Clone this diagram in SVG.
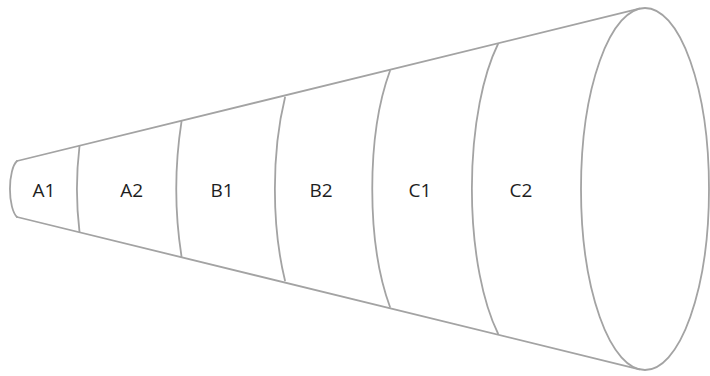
<svg xmlns="http://www.w3.org/2000/svg" width="710" height="376" viewBox="0 0 710 376">
  <style>
    .ln { fill: none; stroke: #a3a3a3; stroke-width: 1.8; stroke-linecap: round; }
    .lbl { font-family: "Open Sans", "Noto Sans", "DejaVu Sans", sans-serif; font-size: 19px; fill: #1e1e1e; text-anchor: middle; }
  </style>
  <rect width="710" height="376" fill="#ffffff"/>
  <g id="cone">
    <path class="ln" d="M17,161 L639.4,8.7"/>
    <path class="ln" d="M17,217 L639.4,369.3"/>
    <path class="ln" d="M17,161 A10,29.3 0 0 0 17,217"/>
    <ellipse class="ln" cx="645" cy="189" rx="64" ry="181"/>
  </g>
  <g id="A1">
    <path class="ln" d="M79.5,146 A46,132 0 0 0 79.5,231.8"/>
    <text class="lbl" x="44" y="197.3">A1</text>
  </g>
  <g id="A2">
    <path class="ln" d="M181.5,121.7 A57.8,165.2 0 0 0 181.5,256.3"/>
    <text class="lbl" x="131.7" y="197.3">A2</text>
  </g>
  <g id="B1">
    <path class="ln" d="M285,97.5 A55.7,159.2 0 0 0 285,280.5"/>
    <text class="lbl" x="222" y="197.3">B1</text>
  </g>
  <g id="B2">
    <path class="ln" d="M390,70.8 A57,162.9 0 0 0 390,307"/>
    <text class="lbl" x="321" y="197.3">B2</text>
  </g>
  <g id="C1">
    <path class="ln" d="M498,44 A62.2,177.7 0 0 0 498,333.5"/>
    <text class="lbl" x="420" y="197.3">C1</text>
  </g>
  <g id="C2">
    <text class="lbl" x="521" y="197.3">C2</text>
  </g>
  <g id="connectors"></g>
</svg>
